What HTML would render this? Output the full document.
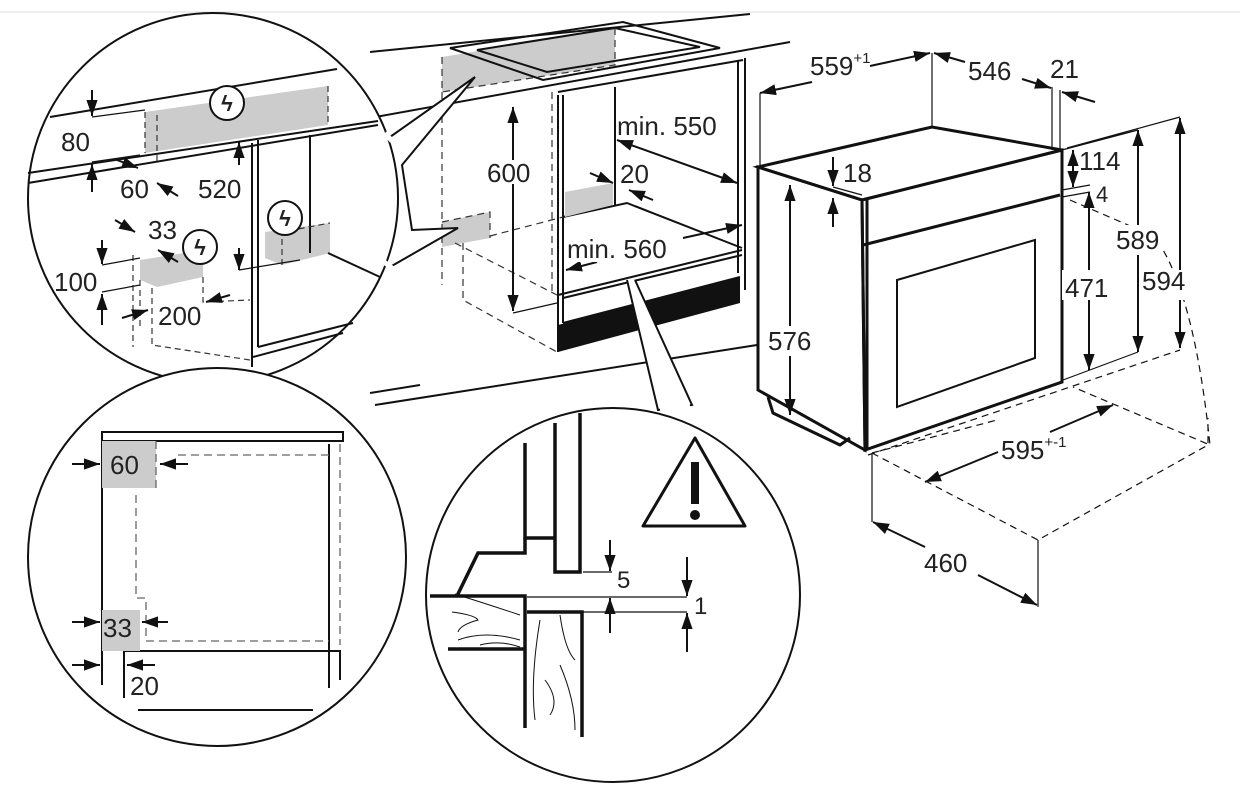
<!DOCTYPE html>
<html><head><meta charset="utf-8"><style>
body{margin:0;background:#fff}
svg text{font-family:"Liberation Sans",Arial,sans-serif;fill:#222}
</style></head><body>
<svg width="1240" height="800" viewBox="0 0 1240 800" xmlns="http://www.w3.org/2000/svg">
<defs>
<marker id="a" viewBox="0 0 10 10" refX="10" refY="5" markerWidth="8" markerHeight="8" orient="auto-start-reverse"><path d="M0,1.5 L10,5 L0,8.5z" fill="#111"/></marker>
</defs>
<line x1="0" y1="12" x2="1240" y2="12" stroke="#ddd" stroke-width="1"/>

<!-- kitchen counter / cabinet -->
<g fill="none" stroke="#111" stroke-width="2">
<path d="M370,52 L750,14"/>
<path d="M370,118 L790,42"/>
<path d="M375,405 L757,345"/>
<path d="M370,393 L420,385"/>
</g>
<polygon points="442,57 615,28 615,65 442,92" fill="#ccc"/>
<g fill="none" stroke="#111" stroke-width="2">
<polygon points="450,48 623,22 720,48 543,80"/>
<polygon points="477,50 615,28 700,47 547,72"/>
<path d="M558,92 L743,60"/>
<path d="M563,95 L563,323 M558,95 L558,352"/>
<path d="M738,60 L738,273 M745,58 L745,290"/>
<path d="M615,87 L615,205"/>
<path d="M563,217 L627,203 L742,248"/>
<path d="M558,295 L742,250 M563,323 L740,277 M563,298 L742,255"/>
</g>
<polygon points="558,325 740,277 740,303 558,352" fill="#111"/>
<polygon points="565,192 613,183 613,205 565,217" fill="#ccc"/>
<polygon points="442,222 490,212 490,238 442,247" fill="#ccc"/>
<g fill="none" stroke="#333" stroke-width="1.2" stroke-dasharray="7,5">
<path d="M442,92 L442,285 M442,222 L490,212 L490,238 M442,57 L442,92 M615,28 L615,65 L442,92"/>
<path d="M455,243 L557,295 M463,243 L463,300 L557,352 M490,236 L563,217 M552,92 L552,295"/>
</g>
<g fill="none" stroke="#111" stroke-width="2">
<line x1="513" y1="107" x2="513" y2="311" marker-start="url(#a)" marker-end="url(#a)"/>
<line x1="513" y1="313" x2="557" y2="303" stroke-width="1.2"/>
<line x1="617" y1="140" x2="737" y2="183" marker-start="url(#a)" marker-end="url(#a)"/>
<line x1="590" y1="173" x2="613" y2="183" marker-end="url(#a)"/>
<line x1="653" y1="200" x2="629" y2="190" marker-end="url(#a)"/>
<line x1="597" y1="262" x2="566" y2="270" marker-end="url(#a)"/>
<line x1="683" y1="238" x2="742" y2="225" marker-end="url(#a)"/>
</g>
<rect x="484" y="160" width="48" height="24" fill="#fff"/>
<rect x="565" y="234" width="92" height="28" fill="#fff"/>
<g font-size="26">
<text x="487" y="182">600</text>
<text x="617" y="135">min. 550</text>
<text x="620" y="183">20</text>
<text x="567" y="258">min. 560</text>
</g>

<!-- top-left circle -->
<path d="M390,137 L475,77 L402,165 L412,230 L458,228 L390,267" fill="#fff" stroke="#111" stroke-width="2"/>
<circle cx="213" cy="198" r="185" fill="#fff" stroke="#111" stroke-width="2"/>
<path d="M385,133 L392,141 M384,262 L392,268" stroke="#fff" stroke-width="5"/>
<polygon points="145,112 328,86 328,125 145,153" fill="#ccc"/>
<polygon points="140,260 203,250 203,277 157,287 140,280" fill="#ccc"/>
<polygon points="265,232 330,223 330,253 282,265 265,258" fill="#ccc"/>
<g fill="none" stroke="#111" stroke-width="2">
<path d="M50,117 L337,69"/>
<path d="M28,173 L378,121 M28,183 L378,125"/>
<path d="M252,143 L252,367 M258,140 L258,347 M310,135 L310,253"/>
<path d="M258,347 L353,323 M253,357 L343,333"/>
<path d="M328,253 L380,277"/>
</g>
<g fill="none" stroke="#333" stroke-width="1.2" stroke-dasharray="6,4">
<path d="M328,86 L328,125 M145,112 L145,153 M157,115 L157,165 M133,255 L133,347 M152,288 L152,345 L250,360 M203,277 L203,302 L250,300 M140,280 L140,330 M282,265 L282,232 L330,223"/>
</g>
<g fill="none" stroke="#111" stroke-width="1.2">
<path d="M92,117 L145,110 M92,162 L140,155 M102,265 L140,258 M102,292 L140,285 M239,142 L330,128 M239,270 L300,260"/>
</g>
<g fill="none" stroke="#111" stroke-width="2">
<line x1="92" y1="90" x2="92" y2="116" marker-end="url(#a)"/>
<line x1="92" y1="192" x2="92" y2="164" marker-end="url(#a)"/>
<line x1="239" y1="165" x2="239" y2="142" marker-end="url(#a)"/>
<line x1="239" y1="248" x2="239" y2="270" marker-end="url(#a)"/>
<line x1="117" y1="160" x2="138" y2="168" marker-end="url(#a)"/>
<line x1="178" y1="196" x2="157" y2="183" marker-end="url(#a)"/>
<line x1="115" y1="220" x2="135" y2="232" marker-end="url(#a)"/>
<line x1="178" y1="262" x2="158" y2="250" marker-end="url(#a)"/>
<line x1="102" y1="240" x2="102" y2="264" marker-end="url(#a)"/>
<line x1="102" y1="325" x2="102" y2="294" marker-end="url(#a)"/>
<line x1="122" y1="318" x2="148" y2="310" marker-end="url(#a)"/>
<line x1="230" y1="295" x2="206" y2="302" marker-end="url(#a)"/>
</g>
<rect x="197" y="175" width="42" height="24" fill="#fff"/>
<g fill="#fff" stroke="#111" stroke-width="2"><circle cx="227" cy="103" r="17"/><circle cx="200" cy="247" r="17"/><circle cx="285" cy="218" r="17"/></g>
<g font-size="22" font-weight="bold" text-anchor="middle"><text x="227" y="111">ϟ</text><text x="200" y="255">ϟ</text><text x="285" y="226">ϟ</text></g>
<g font-size="26"><text x="61" y="151">80</text><text x="120" y="198">60</text><text x="198" y="198">520</text><text x="148" y="239">33</text><text x="54" y="291">100</text><text x="158" y="325">200</text></g>

<!-- bottom-left circle -->
<circle cx="217" cy="557" r="189" fill="#fff" stroke="#111" stroke-width="2"/>
<g fill="none" stroke="#111" stroke-width="2">
<path d="M102,432 L343,432 L343,441 L102,441 Z"/>
<path d="M102,432 L102,685 M329,444 L329,688 M124,651 L340,651 L340,680 M124,651 L124,698 M138,710 L313,710"/>
</g>
<rect x="102" y="441" width="54" height="47" fill="#ccc"/>
<rect x="102" y="610" width="38" height="41" fill="#ccc"/>
<g fill="none" stroke="#666" stroke-width="1.3" stroke-dasharray="8,5">
<path d="M156,441 L156,488 M178,455 L329,455 M340,444 L340,645 M136,495 L136,598 L146,598 L146,641 L329,641"/>
</g>
<g fill="none" stroke="#111" stroke-width="2">
<line x1="72" y1="464" x2="100" y2="464" marker-end="url(#a)"/>
<line x1="188" y1="464" x2="160" y2="464" marker-end="url(#a)"/>
<line x1="72" y1="622" x2="100" y2="622" marker-end="url(#a)"/>
<line x1="168" y1="622" x2="142" y2="622" marker-end="url(#a)"/>
<line x1="72" y1="665" x2="100" y2="665" marker-end="url(#a)"/>
<line x1="155" y1="665" x2="127" y2="665" marker-end="url(#a)"/>
</g>
<g font-size="26"><text x="110" y="474">60</text><text x="103" y="637">33</text><text x="130" y="695">20</text></g>

<!-- bottom-middle circle -->
<path d="M627,280 L658,410 L692,405 L635,280" fill="#fff" stroke="#111" stroke-width="2"/>
<circle cx="613" cy="595" r="187" fill="#fff" stroke="#111" stroke-width="2"/>
<path d="M660,409 L690,406" stroke="#fff" stroke-width="5"/>
<g fill="none" stroke="#111" stroke-width="3.5">
<path d="M525,443 L525,538 L555,538 M555,423 L555,572 L580,572 L580,413"/>
<path d="M430,596 L525,596 L525,728 M457,596 L478,553 L525,553 L525,538"/>
<path d="M527,612 L582,612 L582,737 M448,649 L525,649"/>
</g>
<g fill="none" stroke="#111" stroke-width="1"><path d="M455,594 Q490,605 520,615 M452,612 Q475,615 478,620 Q460,625 458,632 M458,640 Q485,630 520,640 M480,645 Q500,640 520,647 M540,620 Q530,680 535,720 M560,615 Q565,650 575,660 M545,680 Q560,700 550,715 M560,665 Q575,700 575,730"/></g>
<g fill="none" stroke="#111" stroke-width="1.2"><path d="M583,572 L612,572 M527,597 L687,597 M582,612 L687,612"/></g>
<g fill="none" stroke="#111" stroke-width="2">
<line x1="610" y1="540" x2="610" y2="571" marker-end="url(#a)"/>
<line x1="687" y1="557" x2="687" y2="596" marker-end="url(#a)"/>
<line x1="610" y1="633" x2="610" y2="598" marker-end="url(#a)"/>
<line x1="687" y1="652" x2="687" y2="613" marker-end="url(#a)"/>
</g>
<text x="617" y="588" font-size="24">5</text><text x="694" y="614" font-size="24">1</text>
<polygon points="695,438 643,526 745,526" fill="#fff" stroke="#111" stroke-width="3" stroke-linejoin="round"/>
<rect x="691" y="462" width="8" height="42" fill="#111"/><circle cx="695" cy="515" r="5" fill="#111"/>

<!-- oven -->
<g fill="none" stroke="#111" stroke-width="1.2" stroke-dasharray="7,5">
<path d="M1070,200 L1128,225 L1160,245 Q1195,300 1210,445 L1073,387 M868,455 L1180,350 M872,453 L1038,540 L1208,445 L1208,418 M872,453 L997,420"/>
</g>
<g fill="none" stroke="#111" stroke-width="3">
<polygon points="758,167 932,127 1062,150 862,200"/>
<polygon points="758,167 862,200 865,450 758,390"/>
<polygon points="862,200 1062,150 1062,382 865,450"/>
<path d="M863,245 L1060,195 M867,198 L867,448"/>
<path d="M768,397 L773,413 L840,445 L850,438"/>
</g>
<polygon points="897,280 1035,240 1035,358 897,407" fill="none" stroke="#111" stroke-width="2"/>
<g fill="none" stroke="#111" stroke-width="1.2">
<path d="M760,93 L760,165 M932,53 L932,127 M1052,87 L1052,150 M1060,90 L1060,150 M1062,150 L1138,130 M1063,380 L1138,352 M1067,148 L1180,117 M833,187 L862,195 M1062,190 L1090,185 M1062,197 L1090,192 M872,453 L872,522 M1038,540 L1038,607"/>
</g>
<g fill="none" stroke="#111" stroke-width="2">
<line x1="812" y1="82" x2="760" y2="93" marker-end="url(#a)"/>
<line x1="870" y1="66" x2="930" y2="53" marker-end="url(#a)"/>
<line x1="965" y1="62" x2="934" y2="53" marker-end="url(#a)"/>
<line x1="1022" y1="79" x2="1051" y2="88" marker-end="url(#a)"/>
<line x1="1095" y1="102" x2="1062" y2="92" marker-end="url(#a)"/>
<line x1="833" y1="157" x2="833" y2="186" marker-end="url(#a)"/>
<line x1="833" y1="227" x2="833" y2="198" marker-end="url(#a)"/>
<line x1="1073" y1="150" x2="1073" y2="187" marker-start="url(#a)" marker-end="url(#a)"/>
<line x1="1089" y1="192" x2="1089" y2="370" marker-start="url(#a)" marker-end="url(#a)"/>
<line x1="1138" y1="130" x2="1138" y2="352" marker-start="url(#a)" marker-end="url(#a)"/>
<line x1="1180" y1="118" x2="1180" y2="348" marker-start="url(#a)" marker-end="url(#a)"/>
<line x1="790" y1="185" x2="790" y2="415" marker-start="url(#a)" marker-end="url(#a)"/>
<line x1="1050" y1="432" x2="1113" y2="405" marker-end="url(#a)"/>
<line x1="998" y1="452" x2="925" y2="482" marker-end="url(#a)"/>
<line x1="925" y1="547" x2="873" y2="522" marker-end="url(#a)"/>
<line x1="978" y1="575" x2="1037" y2="605" marker-end="url(#a)"/>
</g>
<rect x="1062" y="270" width="50" height="30" fill="#fff"/>
<rect x="1113" y="225" width="50" height="30" fill="#fff"/>
<rect x="1140" y="270" width="52" height="30" fill="#fff"/>
<rect x="766" y="326" width="50" height="30" fill="#fff"/>
<g font-size="26">
<text x="810" y="75">559<tspan font-size="15" dy="-12">+1</tspan></text>
<text x="968" y="80">546</text><text x="1050" y="78">21</text>
<text x="843" y="182">18</text><text x="1079" y="170">114</text><text x="1096" y="202" font-size="22">4</text>
<text x="1065" y="297">471</text><text x="1116" y="249">589</text><text x="1142" y="290">594</text>
<text x="768" y="350">576</text>
<text x="1001" y="459">595<tspan font-size="15" dy="-12">+-1</tspan></text>
<text x="924" y="572">460</text>
</g>
</svg>
</body></html>
